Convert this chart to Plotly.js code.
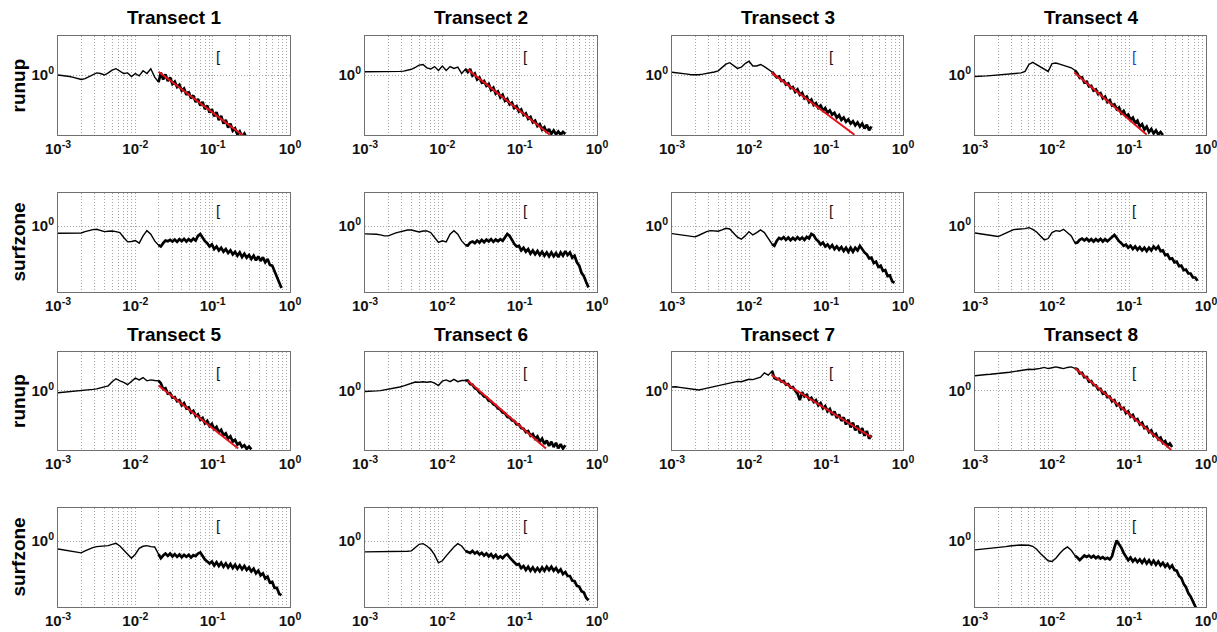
<!DOCTYPE html>
<html>
<head>
<meta charset="utf-8">
<script src="https://cdn.plot.ly/plotly-3.0.1.min.js"></script>
<style>html,body{margin:0;padding:0;background:#fff;}#chart{width:1217px;height:632px;}</style>
</head>
<body>
<div id="chart"></div>
<script>
// Frequency grid, as log10(f) values read along the x axis
const freqExp = [-3.00,-2.95,-2.90,-2.85,-2.80,-2.75,-2.70,-2.65,-2.60,-2.55,-2.50,-2.45,-2.40,-2.35,-2.30,-2.25,-2.20,-2.15,-2.10,-2.05,-2.00,-1.95,-1.90,-1.85,-1.80,-1.75,-1.70,
 -1.67,-1.64,-1.61,-1.58,-1.55,-1.52,-1.49,-1.46,-1.43,-1.40,-1.37,-1.34,-1.31,-1.28,-1.25,-1.22,-1.19,-1.16,-1.13,-1.10,-1.07,-1.04,-1.01,-0.98,-0.95,-0.92,-0.89,-0.86,-0.83,-0.80,-0.77,-0.74,-0.71,-0.68,-0.65,-0.62,-0.59,-0.56,-0.53,-0.50,-0.47,-0.44,-0.41,-0.38,-0.35,-0.32,-0.29,-0.26,-0.23,-0.20,-0.17,-0.14,-0.11];
const NLOW = 27; // points of the smooth low-frequency part

// Spectra, log10 values (runup rows)
const runupT1 = [0.00,-0.01,-0.03,-0.05,-0.08,-0.11,-0.15,-0.12,-0.05,0.02,0.07,0.05,0.00,0.07,0.16,0.21,0.12,0.05,0.07,-0.05,0.05,-0.03,0.14,0.05,0.21,-0.07,-0.24,
 0.08,-0.15,0.02,-0.20,-0.08,-0.30,-0.22,-0.40,-0.33,-0.52,-0.45,-0.66,-0.56,-0.78,-0.68,-0.90,-0.80,-1.02,-0.90,-1.14,-1.02,-1.25,-1.14,-1.38,-1.24,-1.50,-1.36,-1.62,-1.50,-1.75,-1.62,-1.86,-1.78,-1.98,-1.88,-2.05,-1.95,-2.10];
const runupT2 = [0.11,0.11,0.11,0.11,0.10,0.10,0.11,0.11,0.12,0.12,0.13,0.16,0.19,0.25,0.33,0.35,0.24,0.20,0.28,0.15,0.30,0.15,0.28,0.22,0.26,0.05,0.20,
 0.10,0.20,-0.02,0.05,-0.15,-0.08,-0.25,-0.20,-0.36,-0.30,-0.50,-0.42,-0.62,-0.55,-0.75,-0.66,-0.86,-0.80,-0.98,-0.92,-1.10,-1.04,-1.22,-1.15,-1.34,-1.28,-1.46,-1.40,-1.58,-1.52,-1.70,-1.64,-1.82,-1.74,-1.92,-1.80,-1.96,-1.85,-1.98,-1.88,-1.99,-1.90,-1.97];
const runupT3 = [0.09,0.08,0.06,0.04,0.03,0.01,0.00,0.01,0.03,0.05,0.08,0.10,0.14,0.25,0.36,0.41,0.32,0.22,0.26,0.38,0.46,0.30,0.30,0.35,0.28,0.20,0.10,
 0.02,-0.08,-0.05,-0.20,-0.18,-0.32,-0.28,-0.44,-0.40,-0.56,-0.48,-0.66,-0.60,-0.78,-0.72,-0.90,-0.82,-1.00,-0.94,-1.10,-1.02,-1.18,-1.10,-1.26,-1.18,-1.32,-1.26,-1.42,-1.34,-1.50,-1.42,-1.56,-1.48,-1.62,-1.54,-1.68,-1.58,-1.72,-1.62,-1.78,-1.66,-1.84,-1.72];
const runupT4 = [-0.05,-0.05,-0.04,-0.03,-0.02,-0.01,0.00,0.01,0.02,0.03,0.04,0.05,0.07,0.12,0.35,0.42,0.35,0.26,0.20,0.12,0.38,0.40,0.36,0.33,0.28,0.24,0.15,
 0.05,-0.10,-0.08,-0.25,-0.22,-0.38,-0.36,-0.52,-0.48,-0.64,-0.60,-0.78,-0.72,-0.90,-0.84,-1.02,-0.98,-1.14,-1.08,-1.28,-1.20,-1.38,-1.32,-1.50,-1.42,-1.60,-1.52,-1.72,-1.64,-1.82,-1.72,-1.90,-1.80,-1.95,-1.85,-1.98,-1.90,-2.00];
const runupT5 = [-0.07,-0.06,-0.05,-0.04,-0.03,-0.02,-0.01,0.00,0.02,0.04,0.06,0.09,0.12,0.16,0.30,0.40,0.33,0.28,0.20,0.30,0.42,0.36,0.44,0.33,0.36,0.34,0.33,
 0.25,0.05,0.08,-0.10,-0.08,-0.24,-0.22,-0.36,-0.32,-0.50,-0.42,-0.60,-0.56,-0.74,-0.68,-0.86,-0.80,-0.98,-0.92,-1.10,-1.02,-1.20,-1.12,-1.30,-1.22,-1.40,-1.32,-1.50,-1.44,-1.62,-1.54,-1.72,-1.66,-1.82,-1.76,-1.90,-1.84,-1.96,-1.88,-1.98];
const runupT6 = [-0.03,-0.03,-0.02,-0.01,0.00,0.02,0.04,0.06,0.08,0.12,0.16,0.20,0.25,0.29,0.28,0.30,0.28,0.30,0.25,0.17,0.32,0.36,0.30,0.38,0.30,0.34,0.34,
 0.34,0.22,0.20,0.08,0.05,-0.06,-0.10,-0.20,-0.22,-0.34,-0.36,-0.46,-0.50,-0.60,-0.64,-0.74,-0.76,-0.88,-0.90,-1.00,-1.02,-1.14,-1.14,-1.26,-1.28,-1.40,-1.36,-1.52,-1.46,-1.62,-1.54,-1.72,-1.62,-1.80,-1.68,-1.86,-1.72,-1.90,-1.76,-1.94,-1.80,-1.95,-1.84];
const runupT7 = [0.12,0.13,0.11,0.09,0.07,0.04,0.02,0.02,0.05,0.08,0.11,0.14,0.17,0.19,0.22,0.26,0.28,0.31,0.30,0.35,0.38,0.37,0.42,0.45,0.60,0.52,0.66,
 0.42,0.38,0.40,0.30,0.33,0.20,0.22,0.10,0.12,0.00,-0.10,-0.32,-0.05,-0.20,-0.14,-0.30,-0.24,-0.38,-0.32,-0.50,-0.42,-0.60,-0.52,-0.70,-0.62,-0.82,-0.70,-0.92,-0.80,-1.02,-0.90,-1.14,-0.98,-1.24,-1.08,-1.34,-1.18,-1.44,-1.26,-1.52,-1.36,-1.62,-1.50];
const runupT8 = [0.50,0.52,0.52,0.54,0.55,0.56,0.57,0.58,0.60,0.62,0.64,0.66,0.68,0.70,0.72,0.71,0.72,0.75,0.78,0.74,0.77,0.80,0.77,0.74,0.78,0.80,0.75,
 0.72,0.58,0.60,0.45,0.46,0.30,0.32,0.18,0.18,0.04,0.06,-0.10,-0.06,-0.22,-0.20,-0.36,-0.32,-0.50,-0.44,-0.62,-0.58,-0.76,-0.70,-0.88,-0.82,-1.00,-0.96,-1.14,-1.08,-1.26,-1.22,-1.40,-1.34,-1.52,-1.46,-1.64,-1.58,-1.76,-1.70,-1.86,-1.78,-1.90];

// Spectra, log10 values (surfzone rows)
const surfT1 = [-0.22,-0.22,-0.22,-0.22,-0.22,-0.22,-0.21,-0.17,-0.13,-0.11,-0.10,-0.13,-0.17,-0.16,-0.15,-0.17,-0.20,-0.35,-0.48,-0.47,-0.44,-0.52,-0.30,-0.14,-0.25,-0.45,-0.58,
 -0.62,-0.52,-0.44,-0.46,-0.42,-0.47,-0.41,-0.48,-0.40,-0.46,-0.39,-0.47,-0.40,-0.46,-0.38,-0.44,-0.30,-0.24,-0.34,-0.46,-0.52,-0.62,-0.56,-0.70,-0.62,-0.74,-0.66,-0.78,-0.70,-0.82,-0.74,-0.86,-0.78,-0.90,-0.80,-0.94,-0.84,-0.96,-0.88,-1.00,-0.90,-1.04,-0.92,-1.06,-0.95,-1.10,-1.00,-1.18,-1.20,-1.38,-1.50,-1.72,-1.88];
const surfT2 = [-0.24,-0.24,-0.24,-0.25,-0.27,-0.30,-0.30,-0.25,-0.21,-0.18,-0.15,-0.12,-0.12,-0.14,-0.18,-0.15,-0.15,-0.20,-0.35,-0.50,-0.45,-0.48,-0.25,-0.14,-0.25,-0.45,-0.58,
 -0.59,-0.50,-0.47,-0.52,-0.44,-0.50,-0.42,-0.49,-0.41,-0.47,-0.40,-0.48,-0.41,-0.46,-0.40,-0.45,-0.36,-0.24,-0.30,-0.44,-0.54,-0.62,-0.60,-0.74,-0.66,-0.78,-0.70,-0.84,-0.74,-0.86,-0.76,-0.88,-0.78,-0.90,-0.80,-0.92,-0.80,-0.92,-0.82,-0.94,-0.80,-0.90,-0.76,-0.88,-0.80,-0.96,-0.90,-1.10,-1.20,-1.42,-1.52,-1.70,-1.86];
const surfT3 = [-0.23,-0.25,-0.27,-0.29,-0.31,-0.32,-0.33,-0.28,-0.22,-0.17,-0.14,-0.16,-0.16,-0.12,-0.07,-0.09,-0.20,-0.34,-0.40,-0.30,-0.17,-0.27,-0.20,-0.12,-0.20,-0.38,-0.55,
 -0.60,-0.45,-0.36,-0.40,-0.34,-0.42,-0.35,-0.43,-0.36,-0.42,-0.34,-0.41,-0.35,-0.42,-0.33,-0.38,-0.24,-0.28,-0.40,-0.46,-0.56,-0.50,-0.62,-0.56,-0.66,-0.58,-0.70,-0.62,-0.72,-0.64,-0.76,-0.66,-0.78,-0.66,-0.78,-0.66,-0.74,-0.60,-0.70,-0.80,-0.86,-0.98,-0.96,-1.12,-1.08,-1.24,-1.20,-1.36,-1.34,-1.52,-1.50,-1.68,-1.72];
const surfT4 = [-0.21,-0.23,-0.25,-0.27,-0.29,-0.31,-0.32,-0.27,-0.21,-0.16,-0.11,-0.10,-0.10,-0.08,-0.05,-0.10,-0.18,-0.30,-0.42,-0.38,-0.20,-0.14,-0.16,-0.10,-0.20,-0.30,-0.52,
 -0.50,-0.42,-0.38,-0.44,-0.38,-0.46,-0.40,-0.47,-0.40,-0.46,-0.39,-0.47,-0.40,-0.46,-0.40,-0.32,-0.27,-0.36,-0.46,-0.52,-0.60,-0.56,-0.66,-0.60,-0.70,-0.62,-0.72,-0.64,-0.74,-0.66,-0.76,-0.66,-0.74,-0.62,-0.70,-0.62,-0.76,-0.74,-0.88,-0.86,-1.00,-0.98,-1.10,-1.08,-1.22,-1.20,-1.34,-1.32,-1.44,-1.44,-1.56,-1.56,-1.66];
const surfT5 = [-0.24,-0.26,-0.28,-0.30,-0.32,-0.34,-0.36,-0.30,-0.24,-0.20,-0.17,-0.16,-0.17,-0.14,-0.10,-0.07,-0.15,-0.28,-0.40,-0.52,-0.40,-0.22,-0.16,-0.14,-0.17,-0.18,-0.40,
 -0.52,-0.44,-0.38,-0.45,-0.38,-0.47,-0.40,-0.48,-0.41,-0.49,-0.42,-0.48,-0.42,-0.50,-0.43,-0.46,-0.38,-0.35,-0.46,-0.56,-0.62,-0.68,-0.62,-0.74,-0.64,-0.76,-0.66,-0.78,-0.68,-0.80,-0.70,-0.82,-0.72,-0.84,-0.74,-0.86,-0.76,-0.88,-0.80,-0.92,-0.84,-0.98,-0.90,-1.04,-0.98,-1.14,-1.08,-1.26,-1.24,-1.42,-1.42,-1.60,-1.64];
const surfT6 = [-0.33,-0.33,-0.33,-0.33,-0.33,-0.33,-0.33,-0.33,-0.32,-0.32,-0.32,-0.31,-0.30,-0.20,-0.10,-0.08,-0.15,-0.25,-0.42,-0.66,-0.60,-0.45,-0.30,-0.18,-0.08,-0.15,-0.30,
 -0.32,-0.36,-0.30,-0.38,-0.33,-0.41,-0.36,-0.44,-0.38,-0.47,-0.40,-0.50,-0.42,-0.52,-0.46,-0.52,-0.44,-0.40,-0.50,-0.58,-0.66,-0.72,-0.70,-0.82,-0.76,-0.88,-0.78,-0.90,-0.80,-0.92,-0.82,-0.92,-0.80,-0.90,-0.78,-0.88,-0.78,-0.90,-0.82,-0.94,-0.86,-1.00,-0.94,-1.06,-1.06,-1.20,-1.22,-1.36,-1.38,-1.52,-1.56,-1.72,-1.80];
const surfT8 = [-0.27,-0.26,-0.25,-0.24,-0.22,-0.21,-0.20,-0.18,-0.17,-0.15,-0.13,-0.13,-0.12,-0.12,-0.13,-0.16,-0.25,-0.38,-0.50,-0.60,-0.62,-0.52,-0.38,-0.26,-0.18,-0.28,-0.45,
 -0.50,-0.58,-0.52,-0.44,-0.48,-0.44,-0.50,-0.45,-0.52,-0.47,-0.53,-0.49,-0.55,-0.51,-0.56,-0.46,-0.20,0.02,-0.10,-0.20,-0.36,-0.48,-0.58,-0.50,-0.62,-0.54,-0.64,-0.56,-0.66,-0.56,-0.68,-0.58,-0.70,-0.60,-0.72,-0.62,-0.74,-0.66,-0.78,-0.70,-0.82,-0.74,-0.88,-0.90,-1.06,-1.12,-1.30,-1.40,-1.58,-1.68,-1.86,-1.98,-2.10];

// Red power-law fits: [log10 f start, log10 f end] and [log10 S start, log10 S end]
const fitT1 = [[-1.70,-0.55],[0.11,-2.13]];
const fitT2 = [[-1.67,-0.61],[0.18,-1.99]];
const fitT3 = [[-1.71,-0.63],[0.08,-1.99]];
const fitT4 = [[-1.71,-0.77],[0.08,-1.99]];
const fitT5 = [[-1.70,-0.67],[0.17,-1.95]];
const fitT6 = [[-1.67,-0.66],[0.33,-1.95]];
const fitT7 = [[-1.71,-0.41],[0.53,-1.57]];
const fitT8 = [[-1.70,-0.45],[0.75,-2.00]];

// Small "[" marks (log10 f, log10 S per row kind)
const bracketFreqExp = -0.93;
const bracketLevel = {runup: 0.61, surfzone: 0.46};

const titles = ['Transect 1','Transect 2','Transect 3','Transect 4','Transect 5','Transect 6','Transect 7','Transect 8'];
const rowLabels = ['runup','surfzone','runup','surfzone'];

const panels = [
  {r:0,c:0,kind:'runup',s:runupT1,fit:fitT1},
  {r:0,c:1,kind:'runup',s:runupT2,fit:fitT2},
  {r:0,c:2,kind:'runup',s:runupT3,fit:fitT3},
  {r:0,c:3,kind:'runup',s:runupT4,fit:fitT4,blue:true},
  {r:1,c:0,kind:'surfzone',s:surfT1},
  {r:1,c:1,kind:'surfzone',s:surfT2},
  {r:1,c:2,kind:'surfzone',s:surfT3},
  {r:1,c:3,kind:'surfzone',s:surfT4},
  {r:2,c:0,kind:'runup',s:runupT5,fit:fitT5},
  {r:2,c:1,kind:'runup',s:runupT6,fit:fitT6},
  {r:2,c:2,kind:'runup',s:runupT7,fit:fitT7},
  {r:2,c:3,kind:'runup',s:runupT8,fit:fitT8},
  {r:3,c:0,kind:'surfzone',s:surfT5},
  {r:3,c:1,kind:'surfzone',s:surfT6},
  {r:3,c:3,kind:'surfzone',s:surfT8}
];

const W = 1217, H = 632;
const colX = [[58,290],[365,597],[672,903],[975,1206]];
const rowY = [[36,135],[193,292],[352,450],[508,607]];
const yRange = {runup:[-2,1.3], surfzone:[-2,1]};
const FONT = 'Liberation Sans, Arial, Helvetica, sans-serif';
const GRID = '#a6a6a6';
const GRIDDASH = '1px,2px';

const majorVals = [0.001, 0.01, 0.1, 1];
const majorText = ['10<sup>-3</sup>','10<sup>-2</sup>','10<sup>-1</sup>','10<sup>0</sup>'];
const minorVals = [];
[0.001, 0.01, 0.1].forEach(d => { for (let m = 2; m <= 9; m++) minorVals.push(m * d); });

const p10 = v => Math.pow(10, v);
const traces = [];
const layout = {
  width: W, height: H,
  margin: {l:0, r:0, t:0, b:0},
  paper_bgcolor: '#ffffff', plot_bgcolor: '#ffffff',
  showlegend: false,
  font: {family: FONT, color: '#000'},
  annotations: []
};

panels.forEach((p, i) => {
  const n = i + 1;
  const sfx = n === 1 ? '' : String(n);
  const xa = 'x' + sfx, ya = 'y' + sfx;
  const xs = freqExp.slice(0, p.s.length).map(p10);
  const ys = p.s.map(p10);
  // smooth low-frequency part
  traces.push({
    x: xs.slice(0, NLOW + 1), y: ys.slice(0, NLOW + 1),
    xaxis: xa, yaxis: ya, type: 'scatter', mode: 'lines',
    line: {color: '#000000', width: 1.4}, hoverinfo: 'skip'
  });
  // noisy high-frequency part
  traces.push({
    x: xs.slice(NLOW - 1), y: ys.slice(NLOW - 1),
    xaxis: xa, yaxis: ya, type: 'scatter', mode: 'lines',
    line: {color: '#000000', width: 2.7}, hoverinfo: 'skip'
  });
  if (p.fit) {
    traces.push({
      x: p.fit[0].map(p10), y: p.fit[1].map(p10),
      xaxis: xa, yaxis: ya, type: 'scatter', mode: 'lines',
      line: {color: '#e3121b', width: 2}, hoverinfo: 'skip'
    });
  }
  layout.annotations.push({
    text: '[', xref: xa, yref: ya,
    x: bracketFreqExp, y: bracketLevel[p.kind],
    xanchor: 'center', yanchor: 'middle', showarrow: false,
    font: {family: FONT, size: 15, color: p.blue ? '#1a3fd6' : '#111111'}
  });
  const cx = colX[p.c], ry = rowY[p.r];
  layout['xaxis' + sfx] = {
    type: 'log', range: [-3, 0], domain: [cx[0]/W, cx[1]/W], anchor: ya,
    tickmode: 'array', tickvals: majorVals, ticktext: majorText,
    ticks: '', ticklabeloverflow: 'allow',
    showgrid: true, gridcolor: GRID, griddash: GRIDDASH, gridwidth: 1,
    minor: {tickmode: 'array', tickvals: minorVals, showgrid: true, gridcolor: GRID, griddash: GRIDDASH, gridwidth: 1, ticks: ''},
    showline: true, mirror: true, linecolor: '#707070', linewidth: 1,
    zeroline: false, fixedrange: true,
    tickfont: {family: FONT, size: 15, color: '#111', weight: 'bold'}
  };
  layout['yaxis' + sfx] = {
    type: 'log', range: yRange[p.kind], domain: [1 - ry[1]/H, 1 - ry[0]/H], anchor: xa,
    tickmode: 'array', tickvals: [1], ticktext: ['10<sup>0</sup>'],
    ticks: '', ticklabeloverflow: 'allow',
    showgrid: true, gridcolor: GRID, griddash: GRIDDASH, gridwidth: 1,
    showline: true, mirror: true, linecolor: '#707070', linewidth: 1,
    zeroline: false, fixedrange: true,
    tickfont: {family: FONT, size: 15, color: '#111', weight: 'bold'}
  };
});

// Titles over runup rows
const titleRows = [0,0,0,0,2,2,2,2];
const titleY = {0: 17, 2: 334};
titles.forEach((t, i) => {
  const c = i % 4;
  layout.annotations.push({
    text: '<b>' + t + '</b>', xref: 'paper', yref: 'paper',
    x: (colX[c][0] + colX[c][1]) / 2 / W, y: 1 - titleY[titleRows[i]] / H,
    xanchor: 'center', yanchor: 'middle', showarrow: false,
    font: {family: FONT, size: 19, color: '#000'}
  });
});
// Row labels
rowLabels.forEach((t, r) => {
  layout.annotations.push({
    text: '<b>' + t + '</b>', xref: 'paper', yref: 'paper',
    x: 18 / W, y: 1 - (rowY[r][0] + rowY[r][1]) / 2 / H,
    xanchor: 'center', yanchor: 'middle', textangle: -90, showarrow: false,
    font: {family: FONT, size: 19, color: '#000'}
  });
});

Plotly.newPlot('chart', traces, layout, {staticPlot: true, displayModeBar: false});
</script>
</body>
</html>
